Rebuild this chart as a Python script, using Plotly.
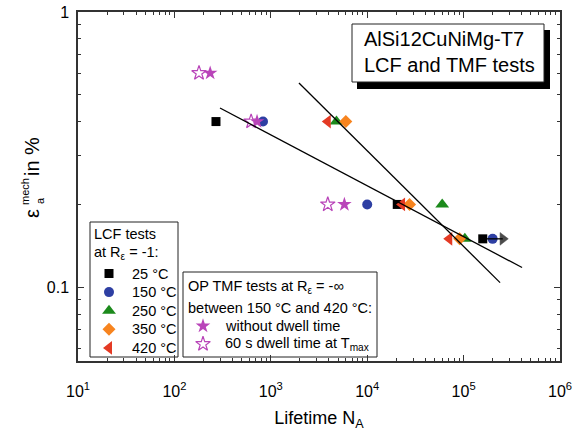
import plotly.graph_objects as go

# ---- LCF tests (R_eps = -1), lifetime N_A and strain amplitude in % ----
lcf_25_n = [270, 20500, 158000]
lcf_25_e = [0.4, 0.2, 0.15]
lcf_150_n = [830, 10000, 200000]
lcf_150_e = [0.4, 0.2, 0.15]
lcf_250_n = [4800, 60000, 103000]
lcf_250_e = [0.4, 0.2, 0.15]
lcf_350_n = [6000, 27500, 91000]
lcf_350_e = [0.4, 0.2, 0.15]
lcf_420_n = [3900, 23000, 71000]
lcf_420_e = [0.4, 0.2, 0.15]

# run-out test at 0.15 %
runout_n = [158000, 255000]
runout_e = [0.15, 0.15]

# ---- OP TMF tests (R_eps = -inf), 150 °C - 420 °C ----
tmf_nodwell_n = [235, 720, 5800]
tmf_nodwell_e = [0.6, 0.4, 0.2]
tmf_dwell_n = [180, 625, 3900]
tmf_dwell_e = [0.6, 0.4, 0.2]

# fitted lifetime lines
fit_a_n = [297, 404000]
fit_a_e = [0.448, 0.118]
fit_b_n = [1960, 239000]
fit_b_e = [0.552, 0.104]

# axis ticks
x_tickvals = [1e1, 1e2, 1e3, 1e4, 1e5, 1e6]
x_ticktext = ["10<sup>1</sup>", "10<sup>2</sup>", "10<sup>3</sup>",
              "10<sup>4</sup>", "10<sup>5</sup>", "10<sup>6</sup>"]
y_tickvals = [0.1, 1]
y_ticktext = ["0.1", "1"]

# legend entries
lcf_labels = ["25 °C", "150 °C", "250 °C", "350 °C", "420 °C"]
tmf_labels = ["without dwell time", "60 s dwell time at T<sub>max</sub>"]

BLACK = "#000000"
BLUE = "#2E3FA3"
GREEN = "#1C8A1C"
ORANGE = "#F7841F"
RED = "#E43A24"
PURPLE = "#B944B9"
FONT = "Liberation Sans, Arial, sans-serif"

lcf_styles = [
    (BLACK, "square", 9),
    (BLUE, "circle", 10),
    (GREEN, "triangle-up", 12),
    (ORANGE, "diamond", 10),
    (RED, "triangle-left", 12),
]
tmf_styles = [
    (PURPLE, "star", 11),
    (PURPLE, "star-open", 11),
]

fig = go.Figure()

lcf_series = [(lcf_25_n, lcf_25_e), (lcf_150_n, lcf_150_e), (lcf_250_n, lcf_250_e),
              (lcf_350_n, lcf_350_e), (lcf_420_n, lcf_420_e)]
for (n, e), (col, sym, sz), lab in zip(lcf_series, lcf_styles, lcf_labels):
    fig.add_trace(go.Scatter(x=n, y=e, mode="markers", name=lab, showlegend=False,
                             marker=dict(color=col, symbol=sym, size=sz, line=dict(width=0)),
                             cliponaxis=False))

tmf_series = [(tmf_nodwell_n, tmf_nodwell_e), (tmf_dwell_n, tmf_dwell_e)]
for (n, e), (col, sym, sz), lab in zip(tmf_series, tmf_styles, tmf_labels):
    fig.add_trace(go.Scatter(x=n, y=e, mode="markers", name=lab, showlegend=False,
                             marker=dict(color=col, symbol=sym, size=sz,
                                         line=dict(color=col, width=1.2 if "open" in sym else 0)),
                             cliponaxis=False))

# run-out arrow
fig.add_trace(go.Scatter(x=runout_n, y=runout_e, mode="lines+markers", showlegend=False,
                         line=dict(color=BLACK, width=1.3),
                         marker=dict(color=BLACK, symbol=["circle", "triangle-right"],
                                     size=[0, 11], line=dict(color=BLACK, width=0.5))))

# fit lines
for n, e in [(fit_a_n, fit_a_e), (fit_b_n, fit_b_e)]:
    fig.add_trace(go.Scatter(x=n, y=e, mode="lines", showlegend=False,
                             line=dict(color=BLACK, width=1.3)))

# ---- hand-built legends on a pixel-space overlay (x: 78..560, y: 12..361) ----
def px_marker(x, y, col, sym, sz, open_=False):
    fig.add_trace(go.Scatter(x=[x], y=[y], xaxis="x2", yaxis="y2", mode="markers",
                             showlegend=False, hoverinfo="skip", cliponaxis=False,
                             marker=dict(color=col, symbol=sym, size=sz,
                                         line=dict(color=col, width=1.2 if open_ else 0))))

shapes = []
annotations = []
LEG_FS = 14.5

def px_text(x, y, text, size=LEG_FS, anchor="left"):
    annotations.append(dict(x=x, y=y, xref="x2", yref="y2", text=text, showarrow=False,
                            xanchor=anchor, yanchor="middle",
                            font=dict(family=FONT, size=size, color=BLACK)))

# legend 1: LCF tests
shapes.append(dict(type="rect", xref="x2", yref="y2", x0=90, x1=178, y0=222, y1=357,
                   line=dict(color="#222", width=1), fillcolor="white", layer="below"))
px_text(92, 233.5, "LCF tests")
px_text(92, 253, "at R<sub>ε</sub> = -1:")
row0, step = 273.5, 18.6
for i, ((col, sym, sz), lab) in enumerate(zip(lcf_styles, lcf_labels)):
    yy = row0 + i * step
    px_marker(109, yy, col, sym, sz)
    px_text(130, yy, lab)

# legend 2: OP TMF tests
shapes.append(dict(type="rect", xref="x2", yref="y2", x0=183, x1=377, y0=272, y1=357,
                   line=dict(color="#222", width=1), fillcolor="white", layer="below"))
px_text(186, 286.5, "OP TMF tests at R<sub>ε</sub> = -∞")
px_text(186, 307.5, "between 150 °C and 420 °C:")
for i, ((col, sym, sz), lab) in enumerate(zip(tmf_styles, tmf_labels)):
    yy = 326 + i * 18
    px_marker(203, yy, col, sym, sz, open_="open" in sym)
    px_text(223, yy, lab)

# title box with drop shadow
shapes.append(dict(type="rect", xref="x2", yref="y2", x0=357, x1=550, y0=30, y1=89,
                   line=dict(width=0), fillcolor="black", layer="above"))
shapes.append(dict(type="rect", xref="x2", yref="y2", x0=352, x1=544, y0=24, y1=82,
                   line=dict(color="#222", width=1), fillcolor="white", layer="above"))
annotations.append(dict(x=362, y=52, xref="x2", yref="y2", showarrow=False,
                        text="AlSi12CuNiMg-T7<br>LCF and TMF tests", align="left",
                        xanchor="left", yanchor="middle",
                        font=dict(family=FONT, size=20, color=BLACK)))

# y-axis title: epsilon with stacked sub/superscript
def ytitle(x, y, text, size):
    annotations.append(dict(x=x, y=y, xref="paper", yref="paper", text=text, showarrow=False,
                            textangle=-90, xanchor="center", yanchor="middle",
                            font=dict(family=FONT, size=size, color=BLACK)))

def pxp(px, py):
    return (px - 78) / 482.0, (361 - py) / 349.0

ytitle(*pxp(32, 214), "ε", 20)
ytitle(*pxp(25, 192), "mech", 11)
ytitle(*pxp(40, 201), "a", 11)
ytitle(*pxp(32, 157), "in %", 20)

x_minor = [k * 10 ** d for d in range(1, 6) for k in range(2, 10)]
y_minor = [0.06, 0.07, 0.08, 0.09, 0.2, 0.3, 0.4, 0.5, 0.6, 0.7, 0.8, 0.9]

axis_common = dict(showline=True, linecolor="#333", linewidth=1.5, mirror="ticks",
                   ticks="inside", ticklen=6, tickwidth=1, tickcolor="#333",
                   showgrid=False, zeroline=False, automargin=False,
                   tickfont=dict(family=FONT, size=16, color=BLACK))

fig.update_layout(
    width=581, height=431,
    margin=dict(l=78, r=21, t=12, b=70, autoexpand=False),
    paper_bgcolor="white", plot_bgcolor="white",
    font=dict(family=FONT, size=15, color=BLACK),
    xaxis=dict(type="log", range=[1, 6], tickmode="array", tickvals=x_tickvals,
               ticktext=x_ticktext, ticklabelstandoff=15,
               minor=dict(tickvals=x_minor, ticks="inside", ticklen=3, tickcolor="#333"),
               title=dict(text="Lifetime N<sub>A</sub>", font=dict(family=FONT, size=18),
                          standoff=15),
               **axis_common),
    yaxis=dict(type="log", range=[-1.2676, 0], tickmode="array", tickvals=y_tickvals,
               ticktext=y_ticktext, ticklabelstandoff=4,
               minor=dict(tickvals=y_minor, ticks="inside", ticklen=3, tickcolor="#333"),
               **axis_common),
    xaxis2=dict(overlaying="x", range=[78, 560], visible=False, fixedrange=True),
    yaxis2=dict(overlaying="y", range=[361, 12], visible=False, fixedrange=True),
    shapes=shapes,
    annotations=annotations,
    showlegend=False,
)

fig.write_html("out.html")
